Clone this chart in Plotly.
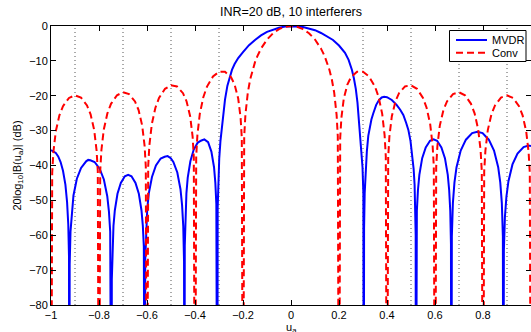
import plotly.graph_objects as go

# Beam pattern of the MVDR beamformer vs. the conventional (uniform) beamformer
TITLE = "INR=20 dB, 10 interferers"
X_LABEL = "u<sub>a</sub>"
Y_LABEL = "20log<sub>10</sub>|B(u<sub>a</sub>)| (dB)"
series_names = ["MVDR", "Conv"]
series_colors = ["#0000ff", "#ff0000"]
series_dash = ["solid", "7px,4px"]

# MVDR pattern: u_a positions and 20log10|B(u_a)| in dB (-150 marks a null below the axis floor)
mvdr_u = [
    -1.0, -0.99, -0.98, -0.97, -0.96, -0.95, -0.94, -0.933, -0.928, -0.925, -0.924,
    -0.9222, -0.9187, -0.9134, -0.9064, -0.8923, -0.8747, -0.8536, -0.845, -0.836, -0.8184,
    -0.7973, -0.7797, -0.7656, -0.7586, -0.7533, -0.7498, -0.748,
    -0.7466, -0.7438, -0.7397, -0.7341, -0.723, -0.7091, -0.6924, -0.6785, -0.6646, -0.6479,
    -0.634, -0.6229, -0.6173, -0.6132, -0.6104, -0.609,
    -0.6074, -0.604, -0.5991, -0.5925, -0.5793, -0.5628, -0.543, -0.5265, -0.514, -0.501,
    -0.4902, -0.4737, -0.4605, -0.4539, -0.449, -0.4457, -0.444,
    -0.4426, -0.4399, -0.4358, -0.4303, -0.4193, -0.4056, -0.3892, -0.3755, -0.361, -0.3454,
    -0.3317, -0.3207, -0.3152, -0.3111, -0.3084, -0.307,
    -0.3055, -0.303, -0.299, -0.294, -0.289, -0.283, -0.275, -0.265, -0.256, -0.246,
    -0.235, -0.22, -0.2, -0.175, -0.15, -0.125, -0.1, -0.075, -0.05, -0.025,
    0.0, 0.025, 0.05, 0.075, 0.1, 0.125, 0.15, 0.175, 0.2, 0.225,
    0.24, 0.254, 0.262, 0.27, 0.277, 0.283, 0.289, 0.294, 0.298, 0.3015, 0.303,
    0.3045, 0.307, 0.311, 0.316, 0.322, 0.326, 0.335, 0.343, 0.355, 0.367,
    0.378, 0.388, 0.4, 0.42, 0.44, 0.455, 0.468, 0.48, 0.489, 0.498,
    0.505, 0.511, 0.515, 0.518, 0.5195, 0.52,
    0.5215, 0.5244, 0.5289, 0.5348, 0.5466, 0.5614, 0.5792, 0.594, 0.6088, 0.6266,
    0.6414, 0.6532, 0.6591, 0.6636, 0.6665, 0.668,
    0.6702, 0.6745, 0.681, 0.6897, 0.7071, 0.7288, 0.7548, 0.7765, 0.7982, 0.8242,
    0.8459, 0.8633, 0.872, 0.8785, 0.8828, 0.885,
    0.887, 0.8913, 0.8976, 0.906, 0.9228, 0.9438, 0.969, 0.99, 1.0,
]
mvdr_db = [
    -35.6, -35.9, -36.4, -37.4, -39.0, -41.5, -45.5, -50.5, -57.0, -66.0, -150,
    -68.4, -58.9, -53.0, -48.6, -43.8, -40.7, -38.8, -38.4, -38.5, -39.0,
    -40.9, -44.0, -48.8, -53.2, -59.0, -68.5, -150,
    -72.7, -63.2, -57.3, -52.9, -48.1, -45.0, -43.1, -42.7, -43.1, -45.0,
    -48.1, -52.9, -57.3, -63.2, -72.7, -150,
    -67.3, -57.8, -52.5, -48.0, -43.3, -40.0, -38.0, -37.5, -37.3, -37.9,
    -39.0, -42.0, -46.8, -51.3, -57.3, -67.3, -150,
    -63.0, -54.0, -48.0, -43.5, -38.8, -35.5, -33.5, -32.9, -32.5, -33.3,
    -36.0, -40.5, -45.0, -51.0, -61.0, -150,
    -52.0, -44.0, -38.0, -33.0, -30.0, -26.9, -21.1, -17.1, -14.6, -12.6,
    -10.9, -9.2, -7.5, -5.5, -4.0, -2.7, -1.7, -1.0, -0.5, -0.15,
    0.0, -0.05, -0.3, -0.7, -1.2, -2.0, -3.0, -4.0, -5.6, -7.7,
    -9.7, -12.6, -15.0, -18.0, -22.0, -26.9, -31.0, -35.5, -40.5, -48.0, -150,
    -58.0, -48.0, -41.0, -36.0, -31.5, -29.8, -26.8, -25.0, -22.6, -21.2,
    -20.5, -20.3, -20.4, -21.2, -22.6, -24.0, -25.5, -27.8, -29.8, -33.0,
    -36.5, -41.0, -45.5, -52.0, -60.0, -150,
    -62.5, -53.0, -47.1, -42.7, -37.9, -34.8, -32.9, -32.5, -32.9, -34.8,
    -37.9, -42.7, -47.1, -53.0, -62.5, -150,
    -60.3, -50.8, -44.9, -40.5, -35.7, -32.6, -30.7, -30.3, -30.7, -32.6,
    -35.7, -40.5, -44.9, -50.8, -60.3, -150,
    -64.3, -54.8, -48.9, -44.5, -39.7, -36.6, -34.7, -34.3, -34.4,
]

# Conventional (uniformly weighted, N=10) pattern
conv_u = [
    -1.0, -0.995, -0.99, -0.98, -0.965, -0.95, -0.925, -0.9, -0.875, -0.85,
    -0.835, -0.82, -0.81, -0.805, -0.8, -0.795, -0.79, -0.78, -0.765, -0.75,
    -0.725, -0.7, -0.675, -0.65, -0.635, -0.62, -0.61, -0.605, -0.6, -0.595,
    -0.59, -0.58, -0.565, -0.55, -0.525, -0.5, -0.475, -0.45, -0.435, -0.42,
    -0.41, -0.405, -0.4, -0.395, -0.39, -0.38, -0.365, -0.35, -0.325, -0.3,
    -0.275, -0.25, -0.235, -0.22, -0.21, -0.205, -0.2, -0.195, -0.19, -0.18,
    -0.17, -0.16, -0.15, -0.14, -0.125, -0.1, -0.075, -0.05, -0.025, 0.0,
    0.025, 0.05, 0.075, 0.1, 0.125, 0.14, 0.15, 0.16, 0.17, 0.18,
    0.19, 0.195, 0.2, 0.205, 0.21, 0.22, 0.235, 0.25, 0.275, 0.3,
    0.325, 0.35, 0.365, 0.38, 0.39, 0.395, 0.4, 0.405, 0.41, 0.42,
    0.435, 0.45, 0.475, 0.5, 0.525, 0.55, 0.565, 0.58, 0.59, 0.595,
    0.6, 0.605, 0.61, 0.62, 0.635, 0.65, 0.675, 0.7, 0.725, 0.75,
    0.765, 0.78, 0.79, 0.795, 0.8, 0.805, 0.81, 0.82, 0.835, 0.85,
    0.875, 0.9, 0.925, 0.95, 0.965, 0.98, 0.99, 0.995, 1.0,
]
conv_db = [
    -150, -42.10, -36.12, -30.20, -25.63, -22.98, -20.63, -19.89, -20.52, -22.77,
    -25.34, -29.85, -35.72, -41.69, -150, -41.64, -35.63, -29.67, -25.03, -22.32,
    -19.85, -19.00, -19.50, -21.63, -24.12, -28.55, -34.37, -40.31, -150, -40.21,
    -34.17, -28.16, -23.43, -20.63, -18.01, -16.99, -17.32, -19.26, -21.64, -25.95,
    -31.70, -37.58, -150, -37.40, -31.30, -25.20, -20.33, -17.37, -14.47, -13.14,
    -13.12, -14.67, -16.78, -20.80, -26.30, -32.10, -150, -31.70, -25.48, -19.11,
    -15.29, -12.53, -10.37, -8.61, -6.49, -3.89, -2.09, -0.90, -0.22, 0.0,
    -0.22, -0.90, -2.09, -3.89, -6.49, -8.61, -10.37, -12.53, -15.29, -19.11,
    -25.48, -31.70, -150, -32.10, -26.30, -20.80, -16.78, -14.67, -13.12, -13.14,
    -14.47, -17.37, -20.33, -25.20, -31.30, -37.40, -150, -37.58, -31.70, -25.95,
    -21.64, -19.26, -17.32, -16.99, -18.01, -20.63, -23.43, -28.16, -34.17, -40.21,
    -150, -40.31, -34.37, -28.55, -24.12, -21.63, -19.50, -19.00, -19.85, -22.32,
    -25.03, -29.67, -35.63, -41.64, -150, -41.69, -35.72, -29.85, -25.34, -22.77,
    -20.52, -19.89, -20.63, -22.98, -25.63, -30.20, -36.12, -42.10, -150,
]

# Interferer directions (dotted markers)
interferer_u = [-0.9, -0.7, -0.5, -0.3, 0.3, 0.5, 0.7, 0.9]

x_ticks = [-1, -0.8, -0.6, -0.4, -0.2, 0, 0.2, 0.4, 0.6, 0.8, 1]
x_tick_text = ["\u22121", "\u22120.8", "\u22120.6", "\u22120.4", "\u22120.2", "0",
               "0.2", "0.4", "0.6", "0.8", "1"]
y_ticks = [0, -10, -20, -30, -40, -50, -60, -70, -80]
y_tick_text = ["0", "\u221210", "\u221220", "\u221230", "\u221240", "\u221250",
               "\u221260", "\u221270", "\u221280"]

FONT = "Liberation Sans, Arial, Helvetica, sans-serif"
W, H = 531, 332
M_L, M_R, M_T, M_B = 51, 0, 26, 27
PW, PH = W - M_L - M_R, H - M_T - M_B


def px_x(px):
    """Horizontal pixel position -> paper fraction."""
    return (px - M_L) / PW


def px_y(py):
    """Vertical pixel position (from top) -> paper fraction."""
    return 1 - (py - M_T) / PH


fig = go.Figure()

for u in interferer_u:
    fig.add_shape(type="line", xref="x", yref="paper", x0=u, x1=u, y0=0, y1=1,
                  line=dict(color="#555555", width=1, dash="1px,3px"), layer="below")

for xs, ys, name, color, dash in zip([mvdr_u, conv_u], [mvdr_db, conv_db],
                                     series_names, series_colors, series_dash):
    fig.add_trace(go.Scatter(x=xs, y=ys, mode="lines", name=name, showlegend=False,
                             line=dict(color=color, width=2, dash=dash)))

# Boxed legend in the upper-right corner of the axes
fig.add_shape(type="rect", xref="paper", yref="paper",
              x0=px_x(449.5), x1=px_x(526), y0=px_y(61.5), y1=px_y(30.5),
              fillcolor="white", line=dict(color="black", width=1), layer="above")
for row, (name, color, dash) in enumerate(zip(series_names, series_colors, series_dash)):
    yy = px_y(40 + 12.7 * row)
    fig.add_shape(type="line", xref="paper", yref="paper",
                  x0=px_x(456), x1=px_x(487), y0=yy, y1=yy,
                  line=dict(color=color, width=2, dash=dash), layer="above")
    fig.add_annotation(text=name, xref="paper", yref="paper", x=px_x(490), y=yy,
                       xanchor="left", yanchor="middle", showarrow=False,
                       font=dict(family=FONT, size=11, color="black"))

# x-axis label sits just below the tick labels, partly cut by the page edge
fig.add_annotation(text=X_LABEL, xref="paper", yref="paper", x=0.5, y=px_y(319),
                   xanchor="center", yanchor="top", showarrow=False,
                   font=dict(family=FONT, size=11, color="black"))

axis_common = dict(showline=True, linecolor="black", linewidth=1, mirror="ticks",
                   ticks="inside", ticklen=5, tickwidth=1, tickcolor="black",
                   showgrid=False, zeroline=False, automargin=False,
                   tickfont=dict(family=FONT, size=11, color="black"))

fig.update_xaxes(range=[-1, 1], tickvals=x_ticks, ticktext=x_tick_text, **axis_common)
fig.update_yaxes(range=[-80, 0], tickvals=y_ticks, ticktext=y_tick_text,
                 title=dict(text=Y_LABEL, font=dict(family=FONT, size=11, color="black"),
                            standoff=5),
                 **axis_common)

fig.update_layout(
    width=W, height=H,
    margin=dict(l=M_L, r=M_R, t=M_T, b=M_B),
    paper_bgcolor="white", plot_bgcolor="white",
    font=dict(family=FONT, size=11, color="black"),
    title=dict(text=TITLE, x=0.5, xref="paper", xanchor="center",
               y=1 - 12 / H, yref="container", yanchor="middle",
               font=dict(family=FONT, size=12.5, color="black")),
    showlegend=False,
)

fig.write_html("out.html")
